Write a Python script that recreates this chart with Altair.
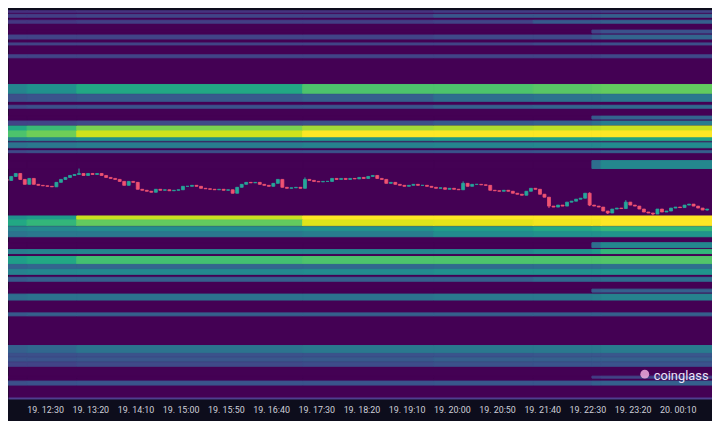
import altair as alt
import pandas as pd

# ---- time axis (minutes since 19 Jan 00:00 UTC) ----
x_domain = [714.4, 1482.4]
tick_values = [750, 800, 850, 900, 950, 1000, 1050, 1100, 1150, 1200, 1250, 1300, 1350, 1400, 1450]
base_ms = 1737244800000  # 2025-01-19 00:00 UTC

# ---- price axis (hidden) ----
y_domain = [100000, 103920]

# ---- heatmap: time segments x price rows ----
seg_edges = [700, 730, 785, 1035, 1180, 1290, 1355, 1365, 1490]
row_hi = [104000, 103920, 103880, 103820, 103720, 103670, 103590, 103470, 103170, 103070,
          102960, 102850, 102800, 102750, 102700, 102630, 102580, 102500, 102400, 101840,
          101800, 101730, 101680, 101570, 101500, 101430, 101350, 101300, 101220, 101100,
          101050, 100860, 100530, 100450, 100410, 100360, 100220, 100170]
row_lo = [103940, 103900, 103850, 103790, 103690, 103630, 103570, 103440, 103080, 103000,
          102930, 102820, 102760, 102700, 102630, 102600, 102530, 102480, 102320, 101800,
          101740, 101680, 101630, 101520, 101460, 101350, 101300, 101250, 101180, 101070,
          100990, 100830, 100450, 100420, 100370, 100320, 100200, 100130]
row_vals = [
    [0.32, 0.33, 0.34, 0.40, 0.42, 0.42, 0.42, 0.42],
    [0.14, 0.14, 0.15, 0.15, 0.18, 0.18, 0.18, 0.20],
    [0.18, 0.18, 0.20, 0.20, 0.27, 0.27, 0.28, 0.30],
    [0.16, 0.16, 0.18, 0.18, 0.20, 0.28, 0.28, 0.30],
    [0.00, 0.00, 0.00, 0.00, 0.00, 0.00, 0.20, 0.25],
    [0.20, 0.20, 0.20, 0.20, 0.22, 0.22, 0.28, 0.32],
    [0.20, 0.20, 0.20, 0.20, 0.20, 0.22, 0.22, 0.24],
    [0.20, 0.20, 0.20, 0.20, 0.20, 0.20, 0.20, 0.22],
    [0.45, 0.50, 0.60, 0.72, 0.72, 0.74, 0.75, 0.76],
    [0.24, 0.26, 0.28, 0.30, 0.36, 0.38, 0.38, 0.40],
    [0.22, 0.24, 0.25, 0.26, 0.30, 0.32, 0.32, 0.34],
    [0.00, 0.00, 0.00, 0.00, 0.00, 0.00, 0.28, 0.32],
    [0.20, 0.20, 0.22, 0.24, 0.28, 0.30, 0.36, 0.42],
    [0.60, 0.68, 0.80, 0.86, 0.88, 0.90, 0.90, 0.92],
    [0.72, 0.78, 0.93, 1.00, 1.00, 1.00, 1.00, 1.00],
    [0.44, 0.46, 0.50, 0.52, 0.55, 0.56, 0.56, 0.58],
    [0.38, 0.40, 0.42, 0.44, 0.45, 0.46, 0.46, 0.48],
    [0.22, 0.24, 0.24, 0.25, 0.26, 0.27, 0.27, 0.30],
    [0.00, 0.00, 0.00, 0.00, 0.00, 0.00, 0.36, 0.46],
    [0.50, 0.55, 0.92, 1.00, 1.00, 1.00, 1.00, 1.00],
    [0.60, 0.66, 0.76, 0.95, 0.96, 0.98, 0.98, 1.00],
    [0.44, 0.46, 0.48, 0.50, 0.55, 0.60, 0.62, 0.66],
    [0.38, 0.40, 0.40, 0.42, 0.48, 0.50, 0.50, 0.52],
    [0.00, 0.00, 0.00, 0.00, 0.00, 0.00, 0.36, 0.46],
    [0.42, 0.44, 0.45, 0.45, 0.46, 0.50, 0.55, 0.66],
    [0.56, 0.60, 0.70, 0.72, 0.72, 0.72, 0.72, 0.73],
    [0.30, 0.32, 0.32, 0.33, 0.34, 0.35, 0.35, 0.36],
    [0.44, 0.46, 0.47, 0.48, 0.50, 0.50, 0.50, 0.52],
    [0.28, 0.30, 0.30, 0.30, 0.30, 0.34, 0.34, 0.36],
    [0.00, 0.00, 0.00, 0.00, 0.00, 0.00, 0.28, 0.30],
    [0.36, 0.38, 0.38, 0.38, 0.40, 0.40, 0.42, 0.44],
    [0.28, 0.30, 0.30, 0.30, 0.30, 0.30, 0.30, 0.30],
    [0.30, 0.33, 0.38, 0.40, 0.40, 0.40, 0.40, 0.41],
    [0.24, 0.24, 0.25, 0.25, 0.26, 0.27, 0.27, 0.27],
    [0.26, 0.26, 0.27, 0.28, 0.30, 0.30, 0.30, 0.30],
    [0.20, 0.20, 0.22, 0.23, 0.25, 0.26, 0.26, 0.26],
    [0.00, 0.00, 0.00, 0.00, 0.00, 0.00, 0.18, 0.20],
    [0.24, 0.25, 0.26, 0.26, 0.27, 0.27, 0.30, 0.30],
]

# ---- 5-minute candles ----
candle_start = 705
candle_minutes = 5
first_open = 102210
closes = [
    102200, 102240, 102270, 102210, 102160, 102220, 102160, 102150, 102145, 102140,
    102135, 102180, 102210, 102230, 102250, 102260, 102270, 102250, 102270, 102260,
    102270, 102250, 102230, 102220, 102210, 102190, 102150, 102190, 102180, 102110,
    102100, 102090, 102080, 102110, 102100, 102105, 102095, 102100, 102105, 102140,
    102140, 102150, 102140, 102120, 102115, 102110, 102105, 102110, 102100, 102105,
    102070, 102130, 102160, 102180, 102175, 102180, 102160, 102150, 102140, 102170,
    102210, 102130, 102120, 102125, 102130, 102120, 102210, 102200, 102190, 102185,
    102190, 102190, 102220, 102210, 102220, 102210, 102220, 102215, 102230, 102220,
    102240, 102250, 102220, 102210, 102170, 102180, 102160, 102150, 102140, 102150,
    102160, 102150, 102150, 102140, 102130, 102120, 102125, 102110, 102120, 102110,
    102105, 102170, 102140, 102160, 102160, 102155, 102150, 102100, 102095, 102090,
    102100, 102090, 102070, 102060, 102050, 102090, 102120, 102110, 102060, 102030,
    101940, 101930, 101950, 101940, 101980, 101990, 102010, 102020, 102070, 101950,
    101940, 101930, 101890, 101870, 101910, 101920, 101915, 101980, 101950, 101940,
    101910, 101880, 101870, 101860, 101910, 101880, 101890, 101920, 101930, 101925,
    101950, 101960, 101940, 101920, 101900, 101910,
]
wick_high = {16: 102320, 66: 102230, 101: 102190, 137: 102000, 129: 102080}
wick_low = {120: 101920, 129: 101940, 133: 101860, 143: 101845, 155: 101895}

heat_rows = []
for r, (hi, lo) in enumerate(zip(row_hi, row_lo)):
    for s in range(len(seg_edges) - 1):
        heat_rows.append({"t0": seg_edges[s], "t1": seg_edges[s + 1],
                          "hi": hi, "lo": lo, "v": row_vals[r][s]})
heat = pd.DataFrame(heat_rows)

candles = []
prev = first_open
for i, c in enumerate(closes):
    o = prev
    hi = wick_high.get(i, max(o, c))
    lo = wick_low.get(i, min(o, c))
    candles.append({"t": candle_start + candle_minutes * i + candle_minutes / 2,
                    "open": o, "close": c, "high": hi, "low": lo,
                    "up": "up" if c >= o else "down"})
    prev = c
cdf = pd.DataFrame(candles)

xscale = alt.Scale(domain=x_domain, nice=False, zero=False)
yscale = alt.Scale(domain=y_domain, nice=False, zero=False)
cscale = alt.Scale(domain=["up", "down"], range=["#26a69a", "#ef5372"])
vscale = alt.Scale(scheme="viridis", domain=[0, 1])

label_expr = f"utcFormat({base_ms} + datum.value*60000, '%d. %H:%M')"

heat_chart = alt.Chart(heat).mark_rect(clip=True, strokeWidth=1).encode(
    x=alt.X("t0:Q", scale=xscale, title=None,
            axis=alt.Axis(values=tick_values, labelExpr=label_expr, grid=False,
                          ticks=False, tickSize=0, labelPadding=8,
                          labelFontSize=9, labelFont="Roboto",
                          labelColor="#cfd0da", domainColor="#4e3f8e",
                          domainWidth=2, labelOverlap=False)),
    x2="t1:Q",
    y=alt.Y("hi:Q", scale=yscale, axis=None),
    y2="lo:Q",
    color=alt.Color("v:Q", scale=vscale, legend=None),
    stroke=alt.Stroke("v:Q", scale=vscale, legend=None),
)

wicks = alt.Chart(cdf).mark_rule(strokeWidth=1, clip=True).encode(
    x=alt.X("t:Q", scale=xscale),
    y=alt.Y("high:Q", scale=yscale),
    y2="low:Q",
    color=alt.Color("up:N", scale=cscale, legend=None),
)

bodies = alt.Chart(cdf).mark_bar(size=3, strokeWidth=0.8, clip=True).encode(
    x=alt.X("t:Q", scale=xscale),
    y=alt.Y("open:Q", scale=yscale),
    y2="close:Q",
    color=alt.Color("up:N", scale=cscale, legend=None),
    stroke=alt.Stroke("up:N", scale=cscale, legend=None),
)

logo_icon = alt.Chart(pd.DataFrame({"a": [0]})).mark_point(
    filled=True, shape="circle", size=80, color="#eeaadd", opacity=0.85
).encode(x=alt.value(644), y=alt.value(368))

logo_text = alt.Chart(pd.DataFrame({"a": [0]})).mark_text(
    text="coinglass", font="Roboto", fontSize=13, fontWeight="normal",
    color="#ece4fa", align="left", baseline="middle"
).encode(x=alt.value(653), y=alt.value(370))

chart = alt.layer(heat_chart, wicks, bodies, logo_icon, logo_text).properties(
    width=712, height=392,
    autosize=alt.AutoSizeParams(type="none"),
    padding={"left": 0, "top": 0, "right": 0, "bottom": 21},
    background="#0d0d1c",
).configure_view(fill="#440154", stroke="transparent")

chart.save("out.html", embed_options={"renderer": "svg", "actions": False})
